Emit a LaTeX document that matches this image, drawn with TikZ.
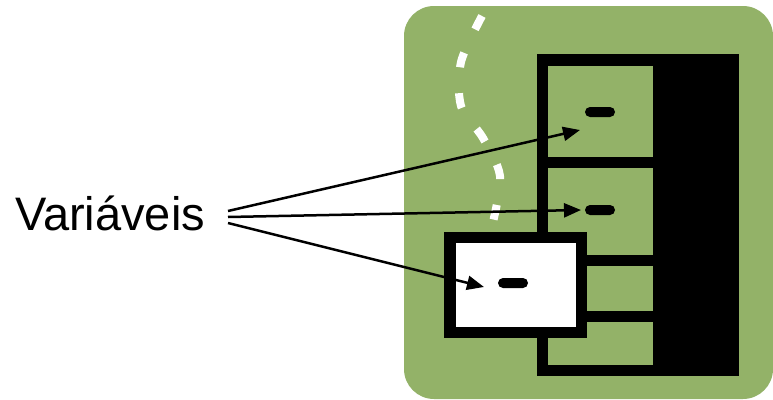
\documentclass[tikz,border=0pt]{standalone}
\usepackage{fontspec}
\setmainfont{Liberation Sans}
\usetikzlibrary{arrows.meta}
\definecolor{olivebg}{RGB}{147,178,104}
\tikzset{
  handle/.style={fill=black,rounded corners=5pt,minimum width=30pt,minimum height=10pt,inner sep=0pt},
  pointer/.style={line width=2.5pt,-{Triangle[length=17pt,width=14pt]}},
  drawer/.style={fill=olivebg}
}

\begin{document}
\begin{tikzpicture}[x=1pt,y=-1pt]
  \useasboundingbox (0,0) rectangle (773,399);

  % background
  \fill[olivebg,rounded corners=30pt] (404,6) rectangle (773,399);
  \draw[white,line width=8pt,dash pattern=on 15pt off 26pt]
    plot[smooth] coordinates {(482,16) (461,62) (461,106) (483,138) (500,176) (493,222)};

  % cabinet
  \fill[black] (537,54) rectangle (739,376);
  \fill[drawer] (548,66) rectangle (653,157);
  \fill[drawer] (548,168) rectangle (653,255);
  \fill[drawer] (548,266) rectangle (653,311);
  \fill[drawer] (548,322) rectangle (653,365);

  % pulled drawer
  \fill[black] (444,232) rectangle (587,338);
  \fill[white] (456,243) rectangle (576,327);

  \node[handle] (h1) at (600,112) {};
  \node[handle] (h2) at (600,210) {};
  \node[handle] (h3) at (513,283) {};

  \node[anchor=base west,inner sep=0pt,font=\fontsize{47}{56}\selectfont] (vars) at (15,230) {Variáveis};

  \coordinate (s1) at (228,211);
  \coordinate (s2) at (228,217);
  \coordinate (s3) at (228,223);
  \coordinate (t1) at (580,130);
  \coordinate (t2) at (581,210);
  \coordinate (t3) at (484,287);

  \draw[pointer] (s1) -- (t1);
  \draw[pointer] (s2) -- (t2);
  \draw[pointer] (s3) -- (t3);
\end{tikzpicture}
\end{document}
